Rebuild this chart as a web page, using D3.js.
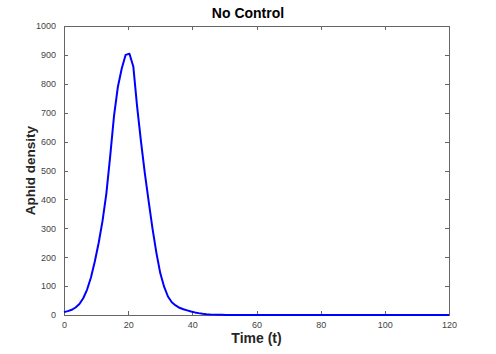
<!DOCTYPE html>
<html>
<head>
<meta charset="utf-8">
<script src="https://d3js.org/d3.v7.min.js"></script>
<style>
  body { margin: 0; background: #fff; }
  text { font-family: "Liberation Sans", Arial, Helvetica, sans-serif; }
</style>
<title>No Control</title>
</head>
<body>
<svg width="496" height="354"></svg>
<script>
// data
var times = [0, 1.2, 2.4, 3.6, 4.8, 6.0, 7.2, 8.4, 9.6, 10.8, 12.0, 13.2, 14.4, 15.6, 16.8,
             18.0, 19.2, 20.4, 21.6, 22.8, 24.0, 25.2, 26.4, 27.6, 28.8, 30.0, 31.2, 32.4,
             33.6, 34.8, 36.0, 37.2, 38.4, 39.6, 40.8, 42.0, 43.2, 44.4, 45.6, 46.8, 48.0,
             49.2, 50.4, 52, 55, 60, 70, 80, 90, 100, 110, 120];
var density = [10, 13.5, 18, 26, 38, 58, 88, 130, 185, 249, 325, 420, 550, 690, 790,
               853, 900, 904, 860, 720, 600, 490, 392, 298, 215, 145, 98, 64,
               44, 33, 25, 20, 16, 12, 9, 6.5, 4.5, 3, 2, 1.3, 0.8,
               0.5, 0.3, 0.2, 0.1, 0, 0, 0, 0, 0, 0, 0];
var xTicks = [0, 20, 40, 60, 80, 100, 120];
var yTicks = [0, 100, 200, 300, 400, 500, 600, 700, 800, 900, 1000];

var svg = d3.select("svg");
var plotL = 64, plotR = 449, plotT = 26, plotB = 315;
var axisColor = "#666";

var x = d3.scaleLinear().domain([0, 120]).range([plotL, plotR]);
var y = d3.scaleLinear().domain([0, 1000]).range([plotB, plotT]);

// box
svg.append("rect")
  .attr("x", plotL).attr("y", plotT)
  .attr("width", plotR - plotL).attr("height", plotB - plotT)
  .attr("fill", "none").attr("stroke", axisColor).attr("stroke-width", 1)
  .attr("shape-rendering", "crispEdges");

function styleAxis(g) {
  g.select(".domain").remove();
  g.selectAll(".tick line").attr("stroke", axisColor).attr("shape-rendering", "crispEdges");
  g.selectAll(".tick text").attr("fill", "#444").attr("font-size", "9px")
    .attr("font-family", "'Liberation Sans', Arial, sans-serif");
}

// bottom + top ticks (inside)
svg.append("g").attr("transform", "translate(0," + plotB + ")")
  .call(d3.axisBottom(x).tickValues(xTicks).tickSizeInner(-4).tickSizeOuter(0)
    .tickPadding(7).tickFormat(d3.format("d")))
  .call(styleAxis);
svg.append("g").attr("transform", "translate(0," + plotT + ")")
  .call(d3.axisTop(x).tickValues(xTicks).tickSizeInner(-4).tickSizeOuter(0).tickFormat(""))
  .call(styleAxis);

// left + right ticks (inside)
svg.append("g").attr("transform", "translate(" + plotL + ",0)")
  .call(d3.axisLeft(y).tickValues(yTicks).tickSizeInner(-4).tickSizeOuter(0)
    .tickPadding(8).tickFormat(d3.format("d")))
  .call(styleAxis);
svg.append("g").attr("transform", "translate(" + plotR + ",0)")
  .call(d3.axisRight(y).tickValues(yTicks).tickSizeInner(-4).tickSizeOuter(0).tickFormat(""))
  .call(styleAxis);

// curve
var line = d3.line()
  .x(function(d, i) { return x(times[i]); })
  .y(function(d) { return y(d); });

svg.append("path")
  .datum(density)
  .attr("d", line)
  .attr("fill", "none")
  .attr("stroke", "#0000ff")
  .attr("stroke-width", 2)
  .attr("stroke-linejoin", "round");

// titles
svg.append("text")
  .attr("x", 248).attr("y", 18)
  .attr("text-anchor", "middle")
  .attr("font-size", "14px").attr("font-weight", "bold")
  .attr("fill", "#000")
  .text("No Control");

svg.append("text")
  .attr("x", (plotL + plotR) / 2).attr("y", 343)
  .attr("text-anchor", "middle")
  .attr("font-size", "14px").attr("font-weight", "bold")
  .attr("fill", "#262626")
  .text("Time (t)");

svg.append("text")
  .attr("transform", "translate(35," + ((plotT + plotB) / 2) + ") rotate(-90)")
  .attr("text-anchor", "middle")
  .attr("font-size", "13.5px").attr("font-weight", "bold")
  .attr("fill", "#262626")
  .text("Aphid density");
</script>
</body>
</html>
